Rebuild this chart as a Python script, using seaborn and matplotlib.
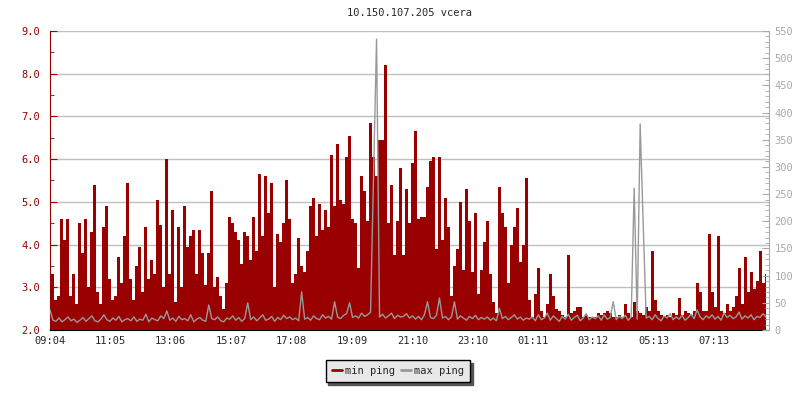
import numpy as np
import pandas as pd
import seaborn as sns
import matplotlib.pyplot as plt
from matplotlib.lines import Line2D
from matplotlib.ticker import MultipleLocator, FormatStrFormatter

title = '10.150.107.205 vcera'
tick_minutes = [0, 121, 242, 363, 484, 605, 726, 846, 967, 1088, 1209, 1329]
tick_labels = ['09:04', '11:05', '13:06', '15:07', '17:08', '19:09',
               '21:10', '23:10', '01:11', '03:12', '05:13', '07:13']
step_min = 6  # one sample every 6 minutes, starting 09:04

# min ping (ms, left axis)
min_ping = [
    4.4, 3.3, 2.7, 2.8, 4.6, 4.1, 4.6, 2.8, 3.3, 2.6, 4.5, 3.8, 4.6, 3.0, 4.3, 5.4, 2.9, 2.6, 4.4, 4.9,
    3.2, 2.7, 2.8, 3.7, 3.1, 4.2, 5.45, 3.2, 2.7, 3.5, 3.95, 2.9, 4.4, 3.2, 3.65, 3.3, 5.05, 4.45, 3.0, 6.0,
    3.3, 4.8, 2.65, 4.4, 3.0, 4.9, 3.95, 4.2, 4.35, 3.3, 4.35, 3.8, 3.05, 3.8, 5.25, 3.0, 3.25, 2.8, 2.5, 3.1,
    4.65, 4.5, 4.3, 4.1, 3.55, 4.3, 4.2, 3.65, 4.65, 3.85, 5.65, 4.2, 5.6, 4.75, 5.45, 3.0, 4.25, 4.05, 4.5, 5.5,
    4.6, 3.1, 3.3, 4.15, 3.5, 3.35, 3.85, 4.9, 5.1, 4.2, 4.95, 4.35, 4.8, 4.4, 6.1, 4.9, 6.35, 5.05, 4.95, 6.05,
    6.55, 4.6, 4.5, 3.45, 5.6, 5.25, 4.55, 6.85, 6.05, 5.6, 6.45, 6.45, 8.2, 4.5, 5.4, 3.75, 4.55, 5.8, 3.75, 5.3,
    4.5, 5.9, 6.65, 4.6, 4.65, 4.65, 5.35, 5.95, 6.05, 3.9, 6.05, 4.1, 5.1, 4.4, 2.8, 3.5, 3.9, 5.0, 3.4, 5.3,
    4.55, 3.35, 4.75, 2.85, 3.4, 4.05, 4.55, 3.3, 2.65, 2.4, 5.35, 4.75, 4.4, 3.1, 4.0, 4.4, 4.85, 3.6, 4.0, 5.55,
    2.7, 2.3, 2.85, 3.45, 2.45, 2.3, 2.6, 3.3, 2.8, 2.5, 2.45, 2.35, 2.3, 3.75, 2.4, 2.45, 2.55, 2.55, 2.3, 2.35,
    2.3, 2.3, 2.3, 2.4, 2.35, 2.4, 2.45, 2.4, 2.3, 2.3, 2.35, 2.3, 2.6, 2.4, 2.3, 2.65, 2.45, 2.4, 2.35, 2.55,
    2.45, 3.85, 2.7, 2.45, 2.35, 2.3, 2.35, 2.3, 2.4, 2.35, 2.75, 2.35, 2.45, 2.4, 2.35, 2.45, 3.1, 2.9, 2.45, 2.45,
    4.25, 2.9, 2.55, 4.2, 2.45, 2.4, 2.6, 2.45, 2.55, 2.8, 3.45, 2.6, 3.7, 2.9, 3.35, 2.95, 3.15, 3.85, 3.1, 3.3,
]

# max ping (ms, right axis)
max_ping = [
    37, 18, 16, 22, 15, 19, 24, 17, 20, 14, 18, 23, 16, 21, 26, 17, 15, 20, 28, 19,
    16, 22, 18, 25, 15, 19, 21, 17, 24, 16, 20, 18, 29, 15, 22, 19, 17, 26, 21, 35,
    18, 22, 16, 25, 19, 21, 17, 28, 15, 20, 23, 18, 16, 46, 21, 19, 24, 17, 15, 22,
    20, 26, 18, 23, 16, 21, 50, 19, 24, 17, 22, 28, 18, 20, 25, 16, 23, 19, 27, 21,
    24, 19, 22, 17, 70, 20, 23, 18, 26, 21, 19, 28, 22, 25, 20, 52, 24, 21, 27, 30,
    50, 23, 26, 22, 31, 25, 28, 33, 280, 535, 24, 29, 22, 26, 31, 21, 27, 24, 25, 30,
    22, 26, 20, 25, 19, 28, 52, 23, 21, 27, 59, 22, 25, 19, 24, 52, 20, 26, 22, 18,
    25, 21, 27, 19, 23, 20, 24, 18, 22, 17, 40, 21, 25, 19, 23, 28, 20, 24, 18, 22,
    20, 24, 17, 28, 19, 22, 31, 18, 26, 21, 16, 25, 20, 29, 18, 23, 27, 17, 22, 30,
    19, 24, 21, 26, 18, 28, 20, 23, 52, 19, 25, 21, 27, 18, 24, 261, 20, 379, 196, 22,
    25, 19, 28, 21, 17, 26, 22, 30, 19, 24, 20, 27, 18, 23, 29, 21, 37, 24, 19, 26,
    22, 28, 20, 25, 18, 31, 23, 27, 21, 24, 33, 20, 26, 22, 28, 19, 25, 23, 30, 24,
]

df = pd.DataFrame({'minute': np.arange(len(min_ping)) * step_min,
                   'min_ping': min_ping, 'max_ping': max_ping})

RED = '#990000'
GREY = '#999999'

sns.set_style('white')
plt.rcParams['font.family'] = ['DejaVu Sans Mono']
plt.rcParams['font.size'] = 7.5

fig = plt.figure(figsize=(8, 4), dpi=100)
ax = fig.add_axes([50 / 800, 70 / 400, 719 / 800, 299 / 400])

ax.fill_between(df.minute, 2.0, df.min_ping, step='mid', color=RED, lw=0)
ax.set_xlim(0, 1440)
ax.set_ylim(2, 9)
ax.yaxis.set_major_locator(MultipleLocator(1))
ax.yaxis.set_minor_locator(MultipleLocator(0.5))
ax.yaxis.set_major_formatter(FormatStrFormatter('%.1f'))
ax.yaxis.grid(True, color='#c0c0c0', lw=1)
ax.set_axisbelow(True)
ax.set_xticks(tick_minutes, tick_labels)
ax.tick_params(axis='x', direction='in', length=5, color='black', labelsize=7.5, pad=4)
ax.tick_params(axis='y', which='major', direction='in', length=5, color=RED,
               labelcolor=RED, labelsize=7.5, pad=7)
ax.tick_params(axis='y', which='minor', direction='in', length=3, color=RED)
for s in ['top', 'right']:
    ax.spines[s].set_visible(False)
ax.spines['left'].set_color(RED)
ax.spines['bottom'].set_color('black')

ax2 = ax.twinx()
sns.lineplot(data=df, x='minute', y='max_ping', ax=ax2, color=GREY, lw=1, legend=False)
ax2.set_ylim(0, 550)
ax2.set_xlim(0, 1440)
ax2.yaxis.set_major_locator(MultipleLocator(50))
ax2.yaxis.set_minor_locator(MultipleLocator(10))
ax2.tick_params(axis='y', which='major', direction='in', length=5, color='#aaaaaa',
                labelcolor='#aaaaaa', labelsize=7.5, pad=4)
ax2.tick_params(axis='y', which='minor', direction='in', length=3, color='#aaaaaa')
for s in ['top', 'left', 'bottom']:
    ax2.spines[s].set_visible(False)
ax2.spines['right'].set_color('#aaaaaa')
ax.set_xlabel('')
ax.set_ylabel('')
ax2.set_xlabel('')
ax2.set_ylabel('')

fig.text(409.5 / 800, 1 - 13 / 400, title, ha='center', va='center', fontsize=7.5)

handles = [Line2D([], [], color=RED, lw=2), Line2D([], [], color=GREY, lw=2)]
fig.legend(handles, ['min ping', 'max ping'], loc='center',
           bbox_to_anchor=(398 / 800, 1 - 371 / 400), ncol=2, frameon=True,
           fancybox=False, shadow={'color': '#555555', 'alpha': 1},
           edgecolor='black', facecolor='#e8e8e8', framealpha=1, fontsize=7.5,
           handlelength=1.0, handletextpad=0.3, columnspacing=0.5, borderpad=0.6)

fig.savefig('out.png', dpi=100)
